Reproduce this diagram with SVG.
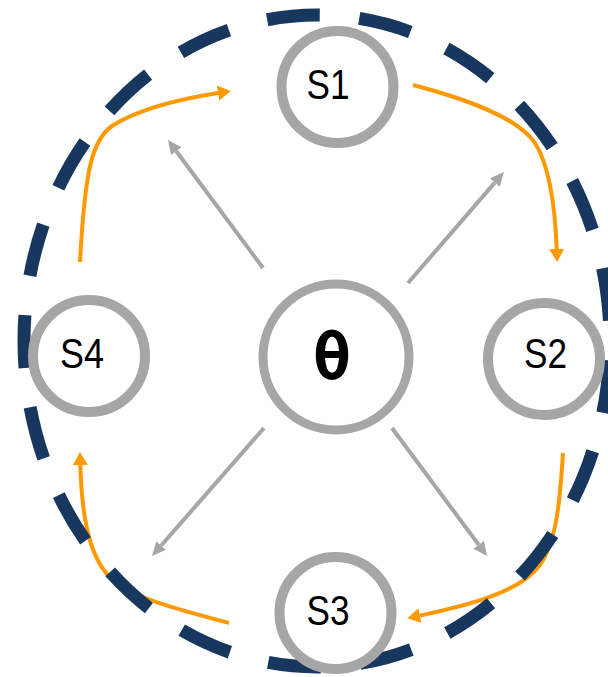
<svg xmlns="http://www.w3.org/2000/svg" width="608" height="677" viewBox="0 0 608 677">
<style>
.ring{fill:#FFFFFF;stroke:#A6A6A6;stroke-width:10}
.lbl{font-family:"Liberation Sans",Arial,sans-serif;font-size:42px;fill:#000000;text-anchor:middle}
.theta{font-family:"DejaVu Sans Mono",monospace;font-weight:bold;font-size:64px;fill:#000000;text-anchor:middle}
.gray{fill:none;stroke:#A6A6A6;stroke-width:4;marker-end:url(#gh)}
.orange{fill:none;stroke:#FF9900;stroke-width:4;marker-end:url(#oh)}
</style>
<defs>
<marker id="gh" markerUnits="userSpaceOnUse" markerWidth="16" markerHeight="14" refX="0" refY="6.5" orient="auto">
<path d="M0,0 L14,6.5 L0,13 Z" fill="#A6A6A6"/>
</marker>
<marker id="oh" markerUnits="userSpaceOnUse" markerWidth="15" markerHeight="16" refX="0" refY="7.5" orient="auto">
<path d="M0,0 L13,7.5 L0,15 Z" fill="#FF9900"/>
</marker>
</defs>
<g id="connectors">
<path class="orange" d="M80,262 C85,170 92,140 112,126 C140,108 180,99 218,93"/>
<path class="orange" d="M413,85 C470,100 518,118 535,143 C549,165 555,205 556.7,249"/>
<path class="orange" d="M563,453 C560,500 557,540 540,565 C520,592 470,605 420,615.6"/>
<path class="orange" d="M229,623 C180,610 140,600 115,582 C90,562 82,520 80.3,465"/>
<path class="gray" d="M263,268 L176.3,151.2"/>
<path class="gray" d="M408,283 L494.8,182.6"/>
<path class="gray" d="M392,428 L478.7,544.8"/>
<path class="gray" d="M264,428 L161.2,545.5"/>
</g>
<g id="boundary">
<ellipse cx="317" cy="341" rx="293" ry="326" pathLength="1911" fill="none" stroke="#17375E" stroke-width="13" stroke-dasharray="52 39" stroke-dashoffset="-19"/>
</g>
<g id="node-theta">
<circle class="ring" cx="336" cy="357" r="73" style="stroke-width:9"/>
<text class="theta" x="332" y="379">θ</text>
</g>
<g id="node-s1">
<circle class="ring" cx="337.5" cy="87" r="56"/>
<text class="lbl" x="328" y="99" textLength="43" lengthAdjust="spacingAndGlyphs">S1</text>
</g>
<g id="node-s2">
<circle class="ring" cx="544" cy="359" r="56"/>
<text class="lbl" x="545.5" y="368" textLength="43" lengthAdjust="spacingAndGlyphs">S2</text>
</g>
<g id="node-s3">
<circle class="ring" cx="335.5" cy="613" r="56"/>
<text class="lbl" x="328" y="625" textLength="43" lengthAdjust="spacingAndGlyphs">S3</text>
</g>
<g id="node-s4">
<circle class="ring" cx="89" cy="356" r="56"/>
<text class="lbl" x="82" y="368" textLength="44" lengthAdjust="spacingAndGlyphs">S4</text>
</g>
</svg>
